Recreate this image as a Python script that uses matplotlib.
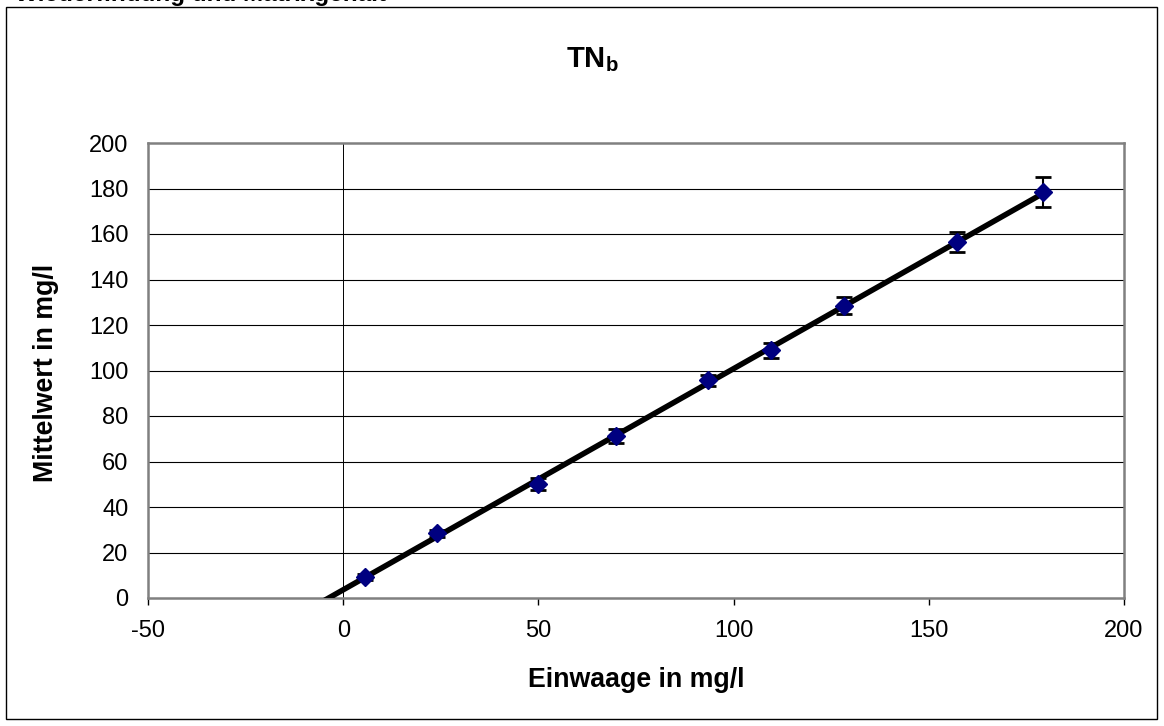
import numpy as np
import matplotlib
matplotlib.use("Agg")
import matplotlib.pyplot as plt
from matplotlib.patches import Rectangle

plt.rcParams['font.family'] = ['Liberation Sans', 'DejaVu Sans']
plt.rcParams['mathtext.fontset'] = 'custom'
plt.rcParams['mathtext.bf'] = 'Liberation Sans:bold'
plt.rcParams['mathtext.rm'] = 'Liberation Sans'
plt.rcParams['axes.unicode_minus'] = False

# Data
einwaage = [5.6, 23.9, 50.0, 69.9, 93.4, 109.5, 128.4, 157.3, 179.3]
mittelwert = [9.2, 28.4, 50.1, 71.2, 95.8, 109.0, 128.4, 156.3, 178.5]
fehler = [1.5, 1.5, 2.5, 3.1, 2.4, 3.3, 3.7, 4.4, 6.6]
x_ticks = [-50, 0, 50, 100, 150, 200]
y_ticks = [0, 20, 40, 60, 80, 100, 120, 140, 160, 180, 200]

W, H = 1164, 726
fig = plt.figure(figsize=(W / 100, H / 100), dpi=100)

# Outer chart border
fig.patches.append(Rectangle((6 / W, 1 - 719 / H), (1157 - 6) / W, (719 - 7) / H,
                             transform=fig.transFigure, fill=False,
                             edgecolor='black', linewidth=1.0))

# Cut-off header text (partially outside the picture, as in the reference)
fig.text(15 / W, 1 - 1 / H, "Wiederfindung und Matrixgehalt", fontsize=17.5,
         fontweight='bold', ha='left', va='baseline')

left, right, top, bottom = 148, 1124, 143, 598
ax = fig.add_axes([left / W, 1 - bottom / H, (right - left) / W, (bottom - top) / H])

ax.set_xlim(-50, 200)
ax.set_ylim(0, 200)
ax.set_xticks(x_ticks)
ax.set_yticks(y_ticks)

for yv in y_ticks[1:-1]:
    ax.axhline(yv, color='black', linewidth=0.8, zorder=1)
ax.axvline(0, color='black', linewidth=0.7, zorder=1)

for s in ax.spines.values():
    s.set_color('#808080')
    s.set_linewidth(1.8)

ax.tick_params(axis='x', direction='out', length=5, width=1, color='black',
               labelsize=17, pad=11)
ax.tick_params(axis='y', length=0, labelsize=17, pad=14)

# Trend line (linear regression, extended backwards, clipped at y=0)
k, d = np.polyfit(einwaage, mittelwert, 1)
xt = np.array([-20.0, max(einwaage)])
ax.plot(xt, k * xt + d, color='black', linewidth=4, zorder=3, solid_capstyle='butt')

ax.errorbar(einwaage, mittelwert, yerr=fehler, fmt='none', ecolor='black',
            elinewidth=1.5, capsize=5.8, capthick=2, zorder=4)
ax.plot(einwaage, mittelwert, linestyle='none', marker='D', markersize=9.5,
        color='#000080', markeredgecolor='#000080', zorder=5)

fig.text(592 / W, 1 - 67 / H, r"$\mathbf{TN_b}$", fontsize=21, ha='center',
         va='baseline')
fig.text(636 / W, 1 - 687 / H, "Einwaage in mg/l", fontsize=19.3,
         fontweight='bold', ha='center', va='baseline')
fig.text(46 / W, 1 - 373 / H, "Mittelwert in mg/l", fontsize=19.3,
         fontweight='bold', ha='center', va='center', rotation=90)

fig.savefig("out.png", dpi=100)
